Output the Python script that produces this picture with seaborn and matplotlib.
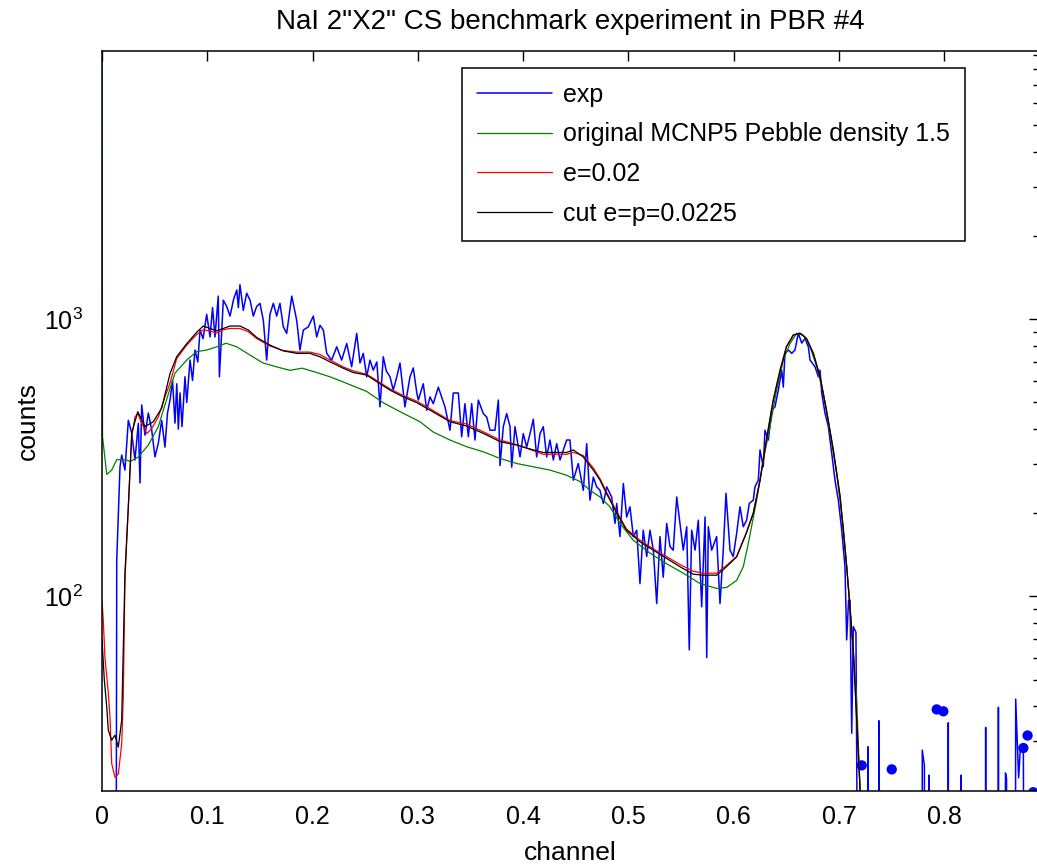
import numpy as np
import matplotlib
matplotlib.use("Agg")
import matplotlib.pyplot as plt
import matplotlib.ticker as mticker
import seaborn as sns

exp_x = [
    0.0000, 0.0130, 0.0140, 0.0171, 0.0187, 0.0218, 0.0250, 0.0282, 0.0313, 0.0345,
    0.0361, 0.0377, 0.0408, 0.0440, 0.0472, 0.0503, 0.0535, 0.0567, 0.0598, 0.0622,
    0.0646, 0.0670, 0.0693, 0.0710, 0.0725, 0.0741, 0.0760, 0.0788, 0.0805, 0.0836,
    0.0860, 0.0883, 0.0910, 0.0931, 0.0960, 0.0994, 0.1026, 0.1050, 0.1073, 0.1104,
    0.1115, 0.1152, 0.1184, 0.1216, 0.1250, 0.1280, 0.1295, 0.1310, 0.1342, 0.1374,
    0.1406, 0.1437, 0.1469, 0.1500, 0.1532, 0.1564, 0.1595, 0.1627, 0.1659, 0.1690,
    0.1722, 0.1754, 0.1802, 0.1849, 0.1880, 0.1912, 0.1959, 0.2007, 0.2039, 0.2070,
    0.2102, 0.2134, 0.2181, 0.2229, 0.2276, 0.2324, 0.2371, 0.2419, 0.2450, 0.2481,
    0.2514, 0.2545, 0.2576, 0.2610, 0.2640, 0.2671, 0.2700, 0.2735, 0.2766, 0.2800,
    0.2830, 0.2877, 0.2925, 0.2956, 0.2990, 0.3004, 0.3051, 0.3084, 0.3115, 0.3146,
    0.3194, 0.3257, 0.3305, 0.3336, 0.3384, 0.3416, 0.3447, 0.3479, 0.3511, 0.3542,
    0.3574, 0.3621, 0.3653, 0.3685, 0.3732, 0.3764, 0.3780, 0.3811, 0.3843, 0.3875,
    0.3891, 0.3922, 0.3970, 0.4001, 0.4033, 0.4065, 0.4096, 0.4128, 0.4160, 0.4191,
    0.4223, 0.4254, 0.4286, 0.4318, 0.4350, 0.4381, 0.4413, 0.4444, 0.4476, 0.4523,
    0.4571, 0.4603, 0.4634, 0.4666, 0.4698, 0.4729, 0.4761, 0.4793, 0.4840, 0.4872,
    0.4888, 0.4919, 0.4951, 0.4983, 0.5014, 0.5046, 0.5078, 0.5109, 0.5140, 0.5173,
    0.5204, 0.5236, 0.5268, 0.5299, 0.5330, 0.5363, 0.5394, 0.5425, 0.5458, 0.5489,
    0.5520, 0.5553, 0.5577, 0.5600, 0.5632, 0.5663, 0.5695, 0.5727, 0.5743, 0.5758,
    0.5790, 0.5837, 0.5869, 0.5900, 0.5926, 0.5964, 0.5995, 0.6027, 0.6059, 0.6090,
    0.6122, 0.6147, 0.6185, 0.6201, 0.6233, 0.6249, 0.6280, 0.6296, 0.6328, 0.6360,
    0.6391, 0.6423, 0.6455, 0.6470, 0.6486, 0.6518, 0.6550, 0.6581, 0.6613, 0.6645,
    0.6676, 0.6708, 0.6724, 0.6771, 0.6803, 0.6819, 0.6835, 0.6866, 0.6898, 0.6930,
    0.6961, 0.6993, 0.7025, 0.7056, 0.7072, 0.7090, 0.7104, 0.7120, 0.7135, 0.7160,
    0.7190, 0.7270, 0.7275, 0.7280, 0.7373, 0.7378, 0.7383, 0.7785, 0.7790, 0.7810,
    0.7815, 0.7850, 0.7853, 0.7860, 0.8032, 0.8037, 0.8042, 0.8155, 0.8160, 0.8165,
    0.8387, 0.8392, 0.8397, 0.8508, 0.8513, 0.8518, 0.8575, 0.8580, 0.8590, 0.8595,
    0.8672, 0.8677, 0.8705, 0.8720, 0.8750, 0.8760, 0.8890,
]
exp_counts = [
    1, 1, 135, 293, 323, 285, 431, 388, 310, 420,
    256, 490, 381, 458, 398, 318, 357, 431, 345, 458,
    510, 600, 421, 584, 401, 541, 409, 619, 500, 711,
    600, 773, 700, 913, 850, 1040, 862, 1100, 862, 1210,
    619, 1170, 1111, 1025, 1180, 1273, 1100, 1330, 1075, 1240,
    1170, 1025, 1111, 1140, 990, 711, 1040, 1140, 1025, 1140,
    937, 888, 1210, 990, 773, 913, 937, 1025, 862, 950,
    913, 752, 711, 794, 711, 816, 673, 888, 694, 752,
    619, 711, 654, 700, 482, 731, 650, 619, 554, 620,
    694, 482, 619, 666, 541, 510, 584, 469, 524, 495,
    568, 482, 397, 541, 541, 376, 495, 376, 495, 366,
    510, 456, 443, 397, 397, 510, 296, 409, 456, 409,
    292, 409, 318, 386, 345, 386, 435, 318, 386, 409,
    318, 366, 310, 355, 310, 337, 366, 366, 262, 301,
    241, 355, 222, 269, 248, 241, 216, 248, 228, 183,
    216, 164, 255, 193, 210, 164, 173, 111, 173, 139,
    173, 146.5, 94, 164, 117, 183, 151, 146.5, 228, 183,
    146.5, 178, 64, 173, 146.5, 188, 91.5, 193, 60, 178,
    146.5, 164, 94, 146.5, 235, 146.5, 139, 168.5, 210, 178,
    188, 216, 222, 248, 262, 337, 293, 397, 366, 469,
    482, 554, 654, 568, 752, 773, 752, 773, 888, 819,
    851, 794, 711, 673, 619, 654, 541, 458, 409, 328,
    262, 222, 173, 127.6, 69.5, 96.7, 96.7, 32, 77.6, 74,
    1, 1, 28.6, 1, 1, 35.5, 1, 1, 27.8, 24.5,
    1, 1, 22.6, 1, 1, 34.9, 1, 1, 22.6, 1,
    1, 33.6, 1, 1, 39.7, 1, 1, 23.0, 22.0, 1,
    1, 42.5, 22.1, 27.7, 28.3, 1, 1,
]

# isolated exp points in the tail
dots_x = [0.7215, 0.7500, 0.7927, 0.7990, 0.8750, 0.8790, 0.8844]
dots_counts = [24.5, 23.7, 39.0, 38.4, 28.3, 31.4, 19.6]

# original MCNP5, pebble density 1.5
mcnp_x = [
    0.0000, 0.0005, 0.0045, 0.0092, 0.0140, 0.0235, 0.0266, 0.0345, 0.0440, 0.0535,
    0.0582, 0.0646, 0.0693, 0.0804, 0.0900, 0.0994, 0.1090, 0.1178, 0.1280, 0.1406,
    0.1530, 0.1660, 0.1785, 0.1900, 0.2040, 0.2165, 0.2324, 0.2514, 0.2670, 0.2860,
    0.3020, 0.3146, 0.3305, 0.3463, 0.3620, 0.3780, 0.3940, 0.4096, 0.4255, 0.4413,
    0.4540, 0.4634, 0.4730, 0.4824, 0.4920, 0.5046, 0.5204, 0.5360, 0.5520, 0.5680,
    0.5837, 0.5933, 0.6027, 0.6090, 0.6138, 0.6217, 0.6280, 0.6344, 0.6407, 0.6470,
    0.6534, 0.6597, 0.6660, 0.6724, 0.6787, 0.6850, 0.6914, 0.6977, 0.7040, 0.7100,
    0.7167, 0.7200, 0.7217,
]
mcnp_counts = [
    9500, 376, 275, 285, 311, 310, 306, 318, 351, 409,
    469, 560, 638, 711, 763, 773, 794, 818, 794, 741,
    694, 672, 653, 665, 641, 619, 586, 548, 499, 457,
    426, 391, 366, 346, 332, 314, 301, 293, 285, 273,
    259, 241, 228, 210, 183, 159, 143, 131, 121, 111,
    106.6, 107.5, 114, 127.6, 155, 222, 310, 409, 555, 711,
    816, 888, 875, 794, 673, 539, 387, 277, 178, 96.7,
    42, 19.8, 12,
]

# e=0.02
e02_x = [
    0.0000, 0.0012, 0.0028, 0.0060, 0.0076, 0.0092, 0.0123, 0.0155, 0.0187, 0.0202,
    0.0218, 0.0235, 0.0250, 0.0282, 0.0313, 0.0340, 0.0377, 0.0425, 0.0470, 0.0535,
    0.0598, 0.0646, 0.0709, 0.0804, 0.0900, 0.0962, 0.1026, 0.1090, 0.1152, 0.1216,
    0.1310, 0.1390, 0.1470, 0.1595, 0.1720, 0.1850, 0.1975, 0.2070, 0.2165, 0.2290,
    0.2387, 0.2514, 0.2610, 0.2735, 0.2860, 0.2990, 0.3115, 0.3305, 0.3463, 0.3620,
    0.3780, 0.3940, 0.4096, 0.4190, 0.4413, 0.4476, 0.4570, 0.4666, 0.4730, 0.4790,
    0.4890, 0.4980, 0.5110, 0.5236, 0.5360, 0.5490, 0.5615, 0.5710, 0.5837, 0.5930,
    0.6027, 0.6120, 0.6185, 0.6250, 0.6310, 0.6375, 0.6440, 0.6500, 0.6565, 0.6630,
    0.6690, 0.6755, 0.6819, 0.6880, 0.6945, 0.7010, 0.7072, 0.7135, 0.7200, 0.7217,
]
e02_counts = [
    96.7, 82, 60, 44.7, 36.6, 24.9, 22.2, 22.8, 29.3, 43,
    114, 159, 210, 376, 443, 456, 421, 386, 402, 443,
    524, 587, 720, 805, 880, 915, 905, 890, 915, 925,
    925, 900, 850, 800, 770, 760, 760, 745, 712, 672,
    650, 632, 600, 560, 530, 505, 475, 430, 418, 392,
    366, 352, 335, 325, 325, 330, 322, 290, 265, 238,
    201, 175, 159, 148, 139, 130, 123, 121, 121, 129,
    139, 170, 200, 264, 368, 512, 656, 796, 877, 890,
    853, 754, 621, 470, 338, 229, 128, 64, 19.8, 12,
]

# cut e=p=0.0225
cut_x = [
    0.0000, 0.0022, 0.0045, 0.0060, 0.0092, 0.0123, 0.0155, 0.0187, 0.0218, 0.0250,
    0.0282, 0.0340, 0.0408, 0.0487, 0.0567, 0.0646, 0.0709, 0.0804, 0.0900, 0.0962,
    0.1026, 0.1090, 0.1152, 0.1216, 0.1310, 0.1390, 0.1470, 0.1595, 0.1720, 0.1850,
    0.1975, 0.2070, 0.2165, 0.2290, 0.2387, 0.2514, 0.2610, 0.2735, 0.2860, 0.2990,
    0.3115, 0.3305, 0.3463, 0.3620, 0.3780, 0.3940, 0.4096, 0.4190, 0.4413, 0.4476,
    0.4570, 0.4666, 0.4730, 0.4790, 0.4890, 0.4980, 0.5110, 0.5236, 0.5360, 0.5490,
    0.5615, 0.5710, 0.5837, 0.5930, 0.6027, 0.6120, 0.6185, 0.6250, 0.6310, 0.6375,
    0.6440, 0.6500, 0.6565, 0.6630, 0.6690, 0.6755, 0.6819, 0.6880, 0.6945, 0.7010,
    0.7072, 0.7135, 0.7200, 0.7217,
]
cut_counts = [
    70, 49.8, 39.8, 32.8, 30.2, 31.5, 28.5, 35.7, 121, 210,
    388, 463, 409, 426, 477, 636, 731, 815, 897, 944,
    925, 906, 925, 944, 944, 913, 858, 805, 768, 752,
    752, 731, 701, 665, 641, 628, 594, 554, 524, 499,
    469, 426, 411, 387, 361, 351, 337, 330, 330, 337,
    318, 285, 262, 235, 199, 173, 157, 146.5, 137, 127.6,
    120, 119, 119, 127.6, 138.6, 169, 199, 262, 366, 510,
    654, 794, 875, 888, 851, 752, 619, 469, 337, 228,
    127.6, 63.8, 19.8, 12,
]

x_ticks = [0, 0.1, 0.2, 0.3, 0.4, 0.5, 0.6, 0.7, 0.8]
title = 'NaI 2"X2" CS benchmark experiment in PBR #4'

sns.set_style("white")
plt.rcParams['font.family'] = ['Liberation Sans', 'DejaVu Sans']
plt.rcParams['mathtext.default'] = 'regular'
plt.rcParams['text.color'] = 'black'
plt.rcParams['axes.labelcolor'] = 'black'
plt.rcParams['xtick.color'] = 'black'
plt.rcParams['ytick.color'] = 'black'

fig = plt.figure(figsize=(10.37, 8.68), dpi=100)
ax = fig.add_axes([102 / 1037, 77 / 868, 936 / 1037, 740 / 868])

sns.lineplot(x=exp_x, y=exp_counts, ax=ax, color='#0000ff', lw=1.1,
             sort=False, estimator=None, label='exp')
sns.lineplot(x=mcnp_x, y=mcnp_counts, ax=ax, color='#008000', lw=0.9,
             sort=False, estimator=None, label='original MCNP5 Pebble density 1.5')
sns.lineplot(x=e02_x, y=e02_counts, ax=ax, color='#ff0000', lw=0.9,
             sort=False, estimator=None, label='e=0.02')
sns.lineplot(x=cut_x, y=cut_counts, ax=ax, color='#000000', lw=0.9,
             sort=False, estimator=None, label='cut e=p=0.0225')
sns.scatterplot(x=dots_x, y=dots_counts, ax=ax, color='#0000ff', s=55,
                edgecolor='none', legend=False)

ax.set_yscale('log')
ax.set_xlim(0, 0.8889)
ax.set_ylim(19.8, 9280)

ax.xaxis.set_major_locator(mticker.FixedLocator(x_ticks))
ax.xaxis.set_major_formatter(mticker.FuncFormatter(lambda v, p: '%g' % v))
ax.yaxis.set_major_locator(mticker.LogLocator(base=10))
ax.yaxis.set_minor_locator(mticker.LogLocator(base=10, subs=np.arange(2, 10)))
ax.yaxis.set_minor_formatter(mticker.NullFormatter())

ax.tick_params(which='both', direction='in', top=True, right=True,
               colors='black', labelcolor='black', labelsize=18, width=1.0)
ax.tick_params(axis='x', which='major', length=7, pad=10)
ax.tick_params(axis='y', which='major', length=6.5, pad=14)
ax.tick_params(axis='y', which='minor', length=3.8)
for sp in ax.spines.values():
    sp.set_color('black')
    sp.set_linewidth(1.1)

ax.set_xlabel('channel', fontsize=19, labelpad=9)
ax.set_ylabel('counts', fontsize=19, labelpad=3)
ax.set_title(title, fontsize=20, pad=16, color='black')

leg = ax.legend(loc='upper left', bbox_to_anchor=(462 / 1037, 1 - 68 / 868),
                bbox_transform=fig.transFigure, fontsize=18, frameon=True,
                fancybox=False, framealpha=1, edgecolor='black',
                handlelength=3.0, handletextpad=0.45, labelspacing=0.62,
                borderpad=0.6, borderaxespad=0)
leg.get_frame().set_linewidth(1.1)
for t in leg.get_texts():
    t.set_color('black')

fig.savefig('out.png', dpi=100)
